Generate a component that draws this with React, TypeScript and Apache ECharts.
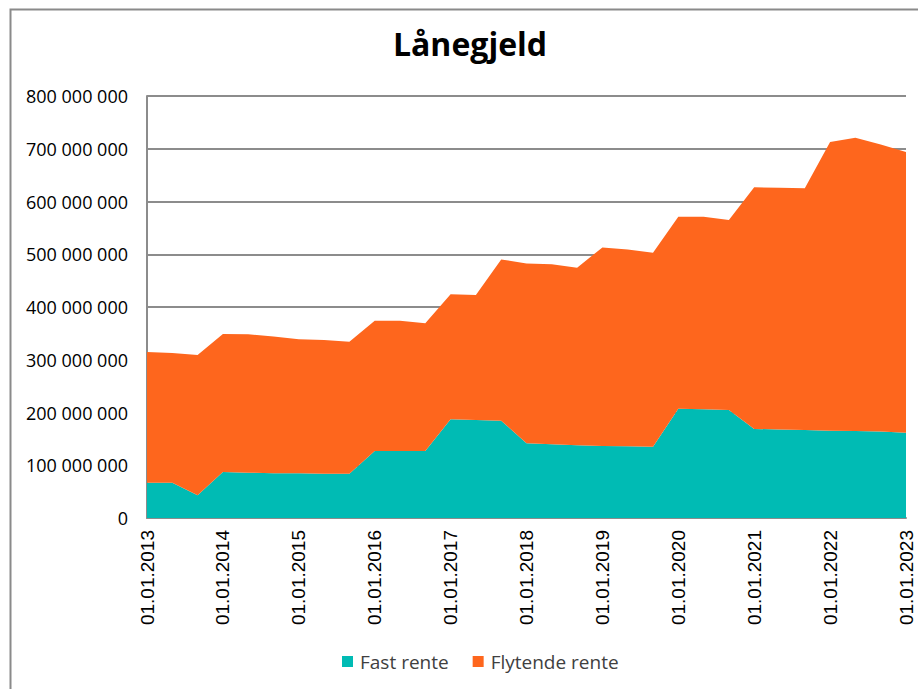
import React, { useEffect, useRef } from "react";
import * as echarts from "echarts";

const years = [2013, 2014, 2015, 2016, 2017, 2018, 2019, 2020, 2021, 2022];
const months = ["01", "05", "09"];
const categories: string[] = [];
years.forEach((y) => months.forEach((m) => categories.push(`01.${m}.${y}`)));
categories.push("01.01.2023");

const fastRente = [
  67000000, 67000000, 43000000, 87000000, 86000000, 85000000, 85000000, 84000000,
  84000000, 127000000, 127000000, 127000000, 187000000, 186000000, 184500000,
  141600000, 140000000, 138000000, 136500000, 136000000, 135000000, 207000000,
  206000000, 204700000, 168700000, 168000000, 167000000, 165500000, 165000000,
  164000000, 161700000,
];

const flytendeRente = [
  247700000, 245800000, 266000000, 262000000, 262500000, 259000000, 254000000,
  253500000, 250000000, 247000000, 247000000, 242000000, 237000000, 236700000,
  305500000, 341100000, 341000000, 336600000, 376500000, 373000000, 368000000,
  364000000, 365000000, 360300000, 458300000, 458000000, 458000000, 547500000,
  556000000, 544000000, 532300000,
];

const yMin = 0;
const yMax = 800000000;
const yInterval = 100000000;

const fmt = (v: number) => String(Math.round(v)).replace(/\B(?=(\d{3})+(?!\d))/g, " ");

export default function App() {
  const ref = useRef<HTMLDivElement>(null);
  useEffect(() => {
    if (!ref.current) return;
    const chart = echarts.init(ref.current, null, { renderer: "svg" });
    const gridColor = "#8c8c8c";
    chart.setOption({
      animation: false,
      backgroundColor: "#ffffff",
      graphic: [
        {
          type: "rect",
          left: 8,
          top: 7,
          shape: { width: 940, height: 720 },
          style: { fill: "none", stroke: "#8a8a8a", lineWidth: 2 },
          silent: true,
        },
      ],
      title: {
        text: "Lånegjeld",
        left: 465,
        textAlign: "center",
        top: 22,
        textStyle: {
          fontFamily: "Open Sans",
          fontWeight: "bold",
          fontSize: 32,
          color: "#000000",
        },
      },
      legend: {
        data: ["Fast rente", "Flytende rente"],
        left: 337,
        top: 647,
        itemWidth: 11,
        itemHeight: 11,
        itemGap: 24,
        icon: "rect",
        textStyle: { fontFamily: "Open Sans", fontSize: 19, color: "#404040", padding: [0, 0, 0, 2] },
      },
      grid: { left: 147, right: 12, top: 96, bottom: 171, containLabel: false },
      xAxis: {
        type: "category",
        data: categories,
        boundaryGap: false,
        axisLine: { lineStyle: { color: gridColor, width: 2 } },
        axisTick: { show: false },
        axisLabel: {
          interval: 2,
          rotate: 90,
          margin: 12,
          fontFamily: "Liberation Sans",
          fontSize: 19,
          color: "#000000",
        },
        splitLine: { show: false },
      },
      yAxis: {
        type: "value",
        min: yMin,
        max: yMax,
        interval: yInterval,
        axisLine: { show: true, lineStyle: { color: gridColor, width: 2 } },
        axisTick: { show: false },
        axisLabel: {
          formatter: fmt,
          margin: 19,
          fontFamily: "Open Sans",
          fontSize: 18,
          color: "#000000",
        },
        splitLine: { show: true, lineStyle: { color: gridColor, width: 2 } },
      },
      series: [
        {
          name: "Fast rente",
          type: "line",
          stack: "total",
          data: fastRente,
          symbol: "none",
          lineStyle: { width: 0 },
          areaStyle: { color: "#00bbb4", opacity: 1 },
          itemStyle: { color: "#00bbb4" },
          z: 3,
        },
        {
          name: "Flytende rente",
          type: "line",
          stack: "total",
          data: flytendeRente,
          symbol: "none",
          lineStyle: { width: 0 },
          areaStyle: { color: "#fe661d", opacity: 1 },
          itemStyle: { color: "#fe661d" },
          z: 3,
        },
      ],
    });
    return () => chart.dispose();
  }, []);
  return (
    <div
      ref={ref}
      style={{ position: "fixed", left: 0, top: 0, width: 918, height: 689 }}
    />
  );
}
